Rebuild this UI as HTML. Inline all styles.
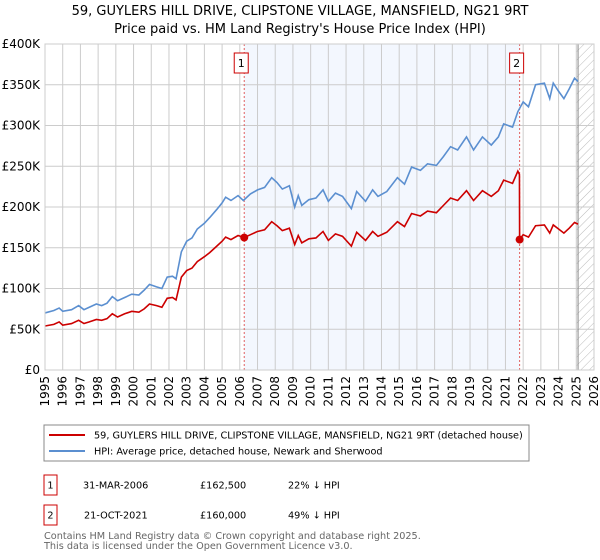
<!DOCTYPE html>
<html><head><meta charset="utf-8"><style>
body{margin:0;background:#fff;}
svg{display:block;font-family:"DejaVu Sans","Liberation Sans",sans-serif;}
</style></head><body>
<svg id="c" width="600" height="560" viewBox="0 0 600 560">
<defs><pattern id="hatch" width="6" height="6" patternUnits="userSpaceOnUse" patternTransform="rotate(45)"><line x1="0" y1="0" x2="0" y2="6" stroke="#bbb" stroke-width="1"/></pattern></defs>
<text x="300" y="15" text-anchor="middle" font-size="13" fill="#000">59, GUYLERS HILL DRIVE, CLIPSTONE VILLAGE, MANSFIELD, NG21 9RT</text>
<text x="300" y="33" text-anchor="middle" font-size="13" fill="#000">Price paid vs. HM Land Registry's House Price Index (HPI)</text>
<g id="plot"></g>
<rect x="44" y="425" width="485" height="36" fill="#fff" stroke="#888"/>
<line x1="49" y1="435" x2="85" y2="435" stroke="#cc0000" stroke-width="2"/>
<text x="94" y="438.5" font-size="9.7">59, GUYLERS HILL DRIVE, CLIPSTONE VILLAGE, MANSFIELD, NG21 9RT (detached house)</text>
<line x1="49" y1="451" x2="85" y2="451" stroke="#5b8fd0" stroke-width="2"/>
<text x="94" y="454.5" font-size="9.7">HPI: Average price, detached house, Newark and Sherwood</text>
<g>
<rect x="44" y="475" width="13" height="20" fill="#fff" stroke="#cc0000"/>
<text x="50.5" y="488.5" text-anchor="middle" font-size="9.7">1</text>
<text x="83" y="488.5" font-size="9.7">31-MAR-2006</text>
<text x="200" y="488.5" font-size="9.7">£162,500</text>
<text x="288" y="488.5" font-size="9.7">22% ↓ HPI</text>
</g>
<g>
<rect x="44" y="505" width="13" height="20" fill="#fff" stroke="#cc0000"/>
<text x="50.5" y="518.5" text-anchor="middle" font-size="9.7">2</text>
<text x="84" y="518.5" font-size="9.7">21-OCT-2021</text>
<text x="200" y="518.5" font-size="9.7">£160,000</text>
<text x="288" y="518.5" font-size="9.7">49% ↓ HPI</text>
</g>
<text x="44" y="539" font-size="9.7" fill="#666">Contains HM Land Registry data © Crown copyright and database right 2025.</text>
<text x="44" y="549" font-size="9.7" fill="#666">This data is licensed under the Open Government Licence v3.0.</text>
</svg>
<script>
const hpiYears=[1995.0,1995.5,1995.8,1996.0,1996.5,1996.9,1997.2,1997.5,1997.9,1998.2,1998.5,1998.8,1999.1,1999.5,1999.9,2000.3,2000.6,2000.9,2001.3,2001.6,2001.9,2002.2,2002.4,2002.7,2003.0,2003.3,2003.6,2004.0,2004.3,2004.7,2005.0,2005.2,2005.5,2005.9,2006.2,2006.6,2007.0,2007.4,2007.8,2008.1,2008.4,2008.8,2009.1,2009.3,2009.5,2009.9,2010.3,2010.7,2011.0,2011.4,2011.8,2012.3,2012.6,2013.1,2013.5,2013.8,2014.3,2014.9,2015.3,2015.7,2016.2,2016.6,2017.1,2017.5,2017.9,2018.3,2018.8,2019.2,2019.7,2020.2,2020.6,2020.9,2021.4,2021.7,2022.0,2022.3,2022.7,2023.2,2023.5,2023.7,2024.0,2024.3,2024.6,2024.9,2025.1];
const hpiValues=[70,73,76,72,74,79,74,77,81,79,82,90,85,89,93,92,98,105,102,100,114,115,112,145,158,162,173,180,187,197,205,212,208,214,208,216,221,224,236,230,222,226,200,214,202,209,211,221,207,217,213,198,219,207,221,213,219,236,228,249,245,253,251,262,274,270,286,270,286,276,286,302,298,317,329,323,350,352,333,352,342,333,345,358,354];
const priceYears=[1995.0,1995.5,1995.8,1996.0,1996.5,1996.9,1997.2,1997.5,1997.9,1998.2,1998.5,1998.8,1999.1,1999.5,1999.9,2000.3,2000.6,2000.9,2001.3,2001.6,2001.9,2002.2,2002.4,2002.7,2003.0,2003.3,2003.6,2004.0,2004.3,2004.7,2005.0,2005.2,2005.5,2005.9,2006.25,2006.6,2007.0,2007.4,2007.8,2008.1,2008.4,2008.8,2009.1,2009.3,2009.5,2009.9,2010.3,2010.7,2011.0,2011.4,2011.8,2012.3,2012.6,2013.1,2013.5,2013.8,2014.3,2014.9,2015.3,2015.7,2016.2,2016.6,2017.1,2017.5,2017.9,2018.3,2018.8,2019.2,2019.7,2020.2,2020.6,2020.9,2021.4,2021.7,2021.79,2021.8,2022.0,2022.3,2022.7,2023.2,2023.5,2023.7,2024.0,2024.3,2024.6,2024.9,2025.1];
const priceValues=[54,56,59,55,57,61,57,59,62,61,63,69,65,69,72,71,75,81,79,77,88,89,86,114,122,125,133,139,144,152,158,163,160,165,162.5,166,170,172,182,177,171,174,154,165,156,161,162,170,159,167,164,152,169,159,170,164,169,182,176,192,189,195,193,202,211,208,220,208,220,213,220,233,229,244,240,160,166,163,177,178,168,178,173,168,174,181,179];
const saleYears=[2006.25,2021.8];
const saleValues=[162.5,160];
const saleLabels=["1","2"];
const yTicks=[0,50,100,150,200,250,300,350,400];
const yTickLabels=["£0","£50K","£100K","£150K","£200K","£250K","£300K","£350K","£400K"];
const xTicks=[1995,1996,1997,1998,1999,2000,2001,2002,2003,2004,2005,2006,2007,2008,2009,2010,2011,2012,2013,2014,2015,2016,2017,2018,2019,2020,2021,2022,2023,2024,2025,2026];

const X0=45,X1=594,Y0=370,Y1=44,yr0=1995,yr1=2026,vmax=400;
const xs=y=>X0+(y-yr0)/(yr1-yr0)*(X1-X0);
const ys=v=>Y0-v/vmax*(Y0-Y1);
const NS="http://www.w3.org/2000/svg";
const g=document.getElementById('plot');
function mk(t,a,p){const e=document.createElementNS(NS,t);for(const k in a)e.setAttribute(k,a[k]);(p||g).appendChild(e);return e;}
const band=mk('rect',{x:xs(saleYears[0]),y:Y1,width:xs(saleYears[1])-xs(saleYears[0]),height:Y0-Y1,fill:'#eef3fd',opacity:0.7});


const hat=mk('rect',{x:xs(2025),y:Y1,width:X1-xs(2025),height:Y0-Y1,fill:'url(#hatch)'});


yTicks.forEach((v,i)=>{
 const l=mk('line',{x1:X0,x2:X1,y1:ys(v),y2:ys(v),stroke:'#ccc','stroke-width':1});
 
 
 const t=mk('text',{x:X0-5,y:ys(v)+4,'text-anchor':'end','font-size':12});
 t.textContent=yTickLabels[i];
 
 
});
xTicks.forEach(y=>{
 const l=mk('line',{x1:xs(y),x2:xs(y),y1:Y1,y2:Y0,stroke:'#ccc','stroke-width':1});
 
 
 const t=mk('text',{x:0,y:0,'text-anchor':'end','font-size':12,transform:`translate(${xs(y)+4},${Y0+6}) rotate(-90)`});
 t.textContent=y;
 
 
});
const bd=mk('line',{x1:xs(2025.1),x2:xs(2025.1),y1:Y1,y2:Y0,stroke:'#888','stroke-width':1});


saleYears.forEach((y,i)=>{
 const l=mk('line',{x1:xs(y),x2:xs(y),y1:Y1,y2:Y0,stroke:'#e06060','stroke-width':1,'stroke-dasharray':'2,2'});
 
 
 const r=mk('rect',{x:xs(y)-10,y:53,width:14,height:20,fill:'#fff',stroke:'#cc0000'});
 
 
 const t=mk('text',{x:xs(y)-3,y:67,'text-anchor':'middle','font-size':11});
 t.textContent=saleLabels[i];
 
 
});
const hp=mk('polyline',{points:hpiYears.map((y,i)=>xs(y)+','+ys(hpiValues[i])).join(' '),fill:'none',stroke:'#5b8fd0','stroke-width':1.6});


const pp=mk('polyline',{points:priceYears.map((y,i)=>xs(y)+','+ys(priceValues[i])).join(' '),fill:'none',stroke:'#cc0000','stroke-width':1.6});


saleYears.forEach((y,i)=>{
 const c=mk('circle',{cx:xs(y),cy:ys(saleValues[i]),r:4,fill:'#cc0000'});
 
 
});
const fr=mk('rect',{x:X0,y:Y1,width:X1-X0,height:Y0-Y1,fill:'none',stroke:'#ccc'});


</script>
</body></html>
